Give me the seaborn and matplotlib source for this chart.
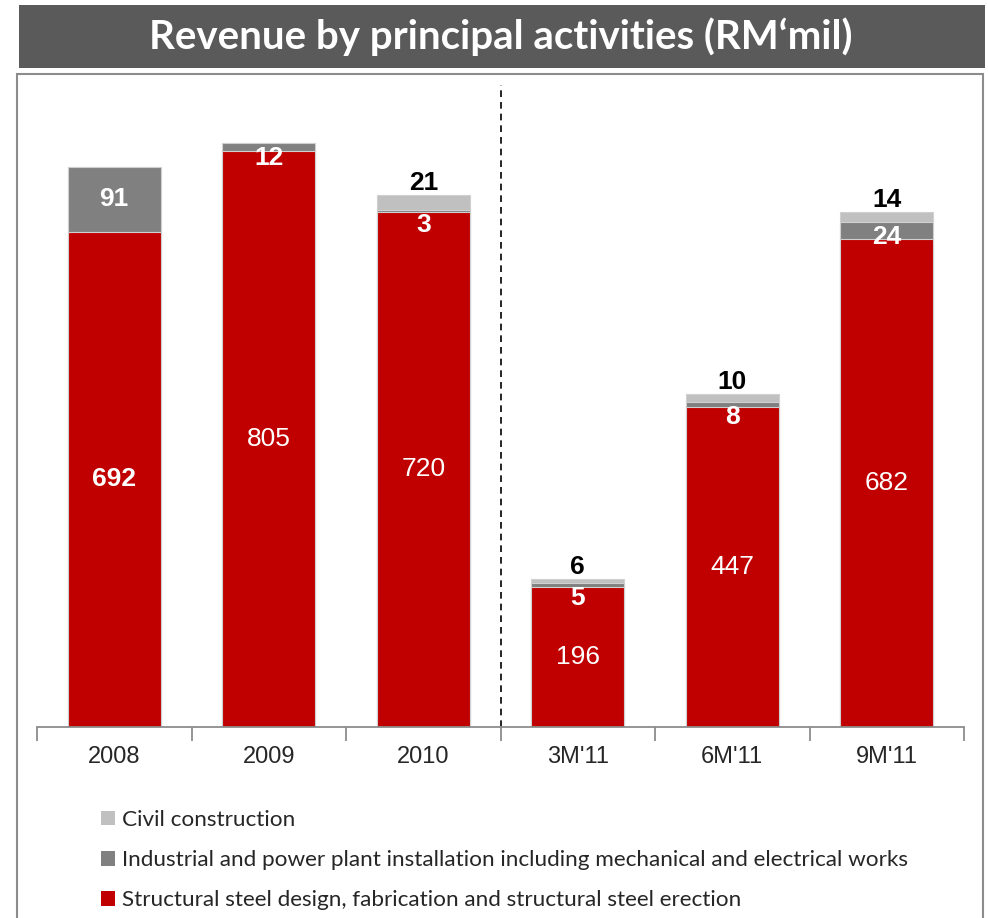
import matplotlib
matplotlib.use("Agg")
import matplotlib.pyplot as plt
from matplotlib.patches import Rectangle, Patch
import seaborn as sns
import pandas as pd

# Revenue by principal activity, RM million
periods = ["2008", "2009", "2010", "3M'11", "6M'11", "9M'11"]
steel = [692, 805, 720, 196, 447, 682]
industrial = [91, 12, 3, 5, 8, 24]
civil = [0, 0, 21, 6, 10, 14]

series_names = [
    "Civil construction",
    "Industrial and power plant installation including mechanical and electrical works",
    "Structural steel design, fabrication and structural steel erection",
]
steel_label_bold = [True, False, False, False, False, False]

RED = "#C00000"
GREY = "#808080"
LIGHT = "#C0C0C0"

sns.set_theme(style="white")
plt.rcParams["font.family"] = ["Liberation Sans", "DejaVu Sans"]

df = pd.DataFrame({
    "period": periods,
    "steel": steel,
    "industrial": industrial,
    "civil": civil,
})
df["lvl_steel"] = df["steel"]
df["lvl_ind"] = df["steel"] + df["industrial"]
df["lvl_total"] = df["lvl_ind"] + df["civil"]

fig = plt.figure(figsize=(9.88, 9.18), dpi=100)

# title banner
fig.patches.append(Rectangle((19 / 988, 1 - 68 / 918), (985 - 19) / 988, 63 / 918,
                             transform=fig.transFigure, facecolor="#5a5a5a",
                             edgecolor="none", zorder=0))
fig.text(0.507, 1 - 37 / 918, "Revenue by principal activities (RM\u2018mil)",
         ha="center", va="center", color="white", fontsize=29, fontweight="bold",
         family=["Lato", "DejaVu Sans"])

# chart frame
fig.patches.append(Rectangle((17 / 988, -0.01), (983 - 17) / 988, 1 - 74 / 918 + 0.01,
                             transform=fig.transFigure, facecolor="none",
                             edgecolor="#8c8c8c", linewidth=1.5, zorder=0))

ax = fig.add_axes([37 / 988, 1 - 727 / 918, (964 - 37) / 988, (727 - 85) / 918])
ax.set_facecolor("none")

# stacked bars drawn as cumulative layers, tallest first
edge = dict(edgecolor="#d0d0d0", linewidth=0.8)
sns.barplot(data=df, x="period", y="lvl_total", color=LIGHT, width=0.6,
            saturation=1, ax=ax, **edge)
sns.barplot(data=df, x="period", y="lvl_ind", color=GREY, width=0.6,
            saturation=1, ax=ax, **edge)
sns.barplot(data=df, x="period", y="lvl_steel", color=RED, width=0.6,
            saturation=1, ax=ax, **edge)

ax.set_xlim(-0.5, len(periods) - 0.5)
ax.set_ylim(0, 897.5)
ax.set_xlabel("")
ax.set_ylabel("")
ax.set_yticks([])
for side in ["left", "right", "top"]:
    ax.spines[side].set_visible(False)
ax.spines["bottom"].set_color("#8c8c8c")
ax.spines["bottom"].set_linewidth(1.3)

ax.set_xticks(range(len(periods)))
ax.set_xticklabels(periods, fontsize=17)
ax.tick_params(axis="x", which="major", length=0, pad=14)
ax.set_xticks([i - 0.5 for i in range(len(periods) + 1)], minor=True)
ax.tick_params(axis="x", which="minor", length=10, width=1.3, color="#8c8c8c",
               bottom=True)

# divider between full years and the 2011 quarters
ax.axvline(2.5, color="black", linestyle=(0, (4, 3)), linewidth=1.2)

# value labels
FS = 19
for i, p in enumerate(periods):
    s, g, c = steel[i], industrial[i], civil[i]
    ax.text(i, s / 2, f"{s}", ha="center", va="center", color="white",
            fontsize=FS, fontweight="bold" if steel_label_bold[i] else "normal")
    seg_px = g * 0.715
    if seg_px > 30:
        ax.text(i, s + g / 2, f"{g}", ha="center", va="center", color="white",
                fontsize=FS, fontweight="bold")
    else:
        ax.annotate(f"{g}", (i, s + g), xytext=(0, -11), textcoords="offset points",
                    ha="center", va="center", color="white", fontsize=FS,
                    fontweight="bold")
    if c > 0:
        ax.annotate(f"{c}", (i, s + g + c), xytext=(0, 0), textcoords="offset points",
                    ha="center", va="bottom", color="black", fontsize=FS,
                    fontweight="bold")

# legend below the axis
handles = [Patch(facecolor=LIGHT, edgecolor="none"),
           Patch(facecolor=GREY, edgecolor="none"),
           Patch(facecolor=RED, edgecolor="none")]
leg = fig.legend(handles, series_names, loc="upper left",
                 bbox_to_anchor=(101 / 988, 1 - 810 / 918), frameon=False,
                 prop={"family": "Lato", "size": 16.2},
                 handlelength=0.62, handleheight=0.62, handletextpad=0.3,
                 labelspacing=0.9, borderpad=0, borderaxespad=0)

fig.savefig("out.png", dpi=100)
